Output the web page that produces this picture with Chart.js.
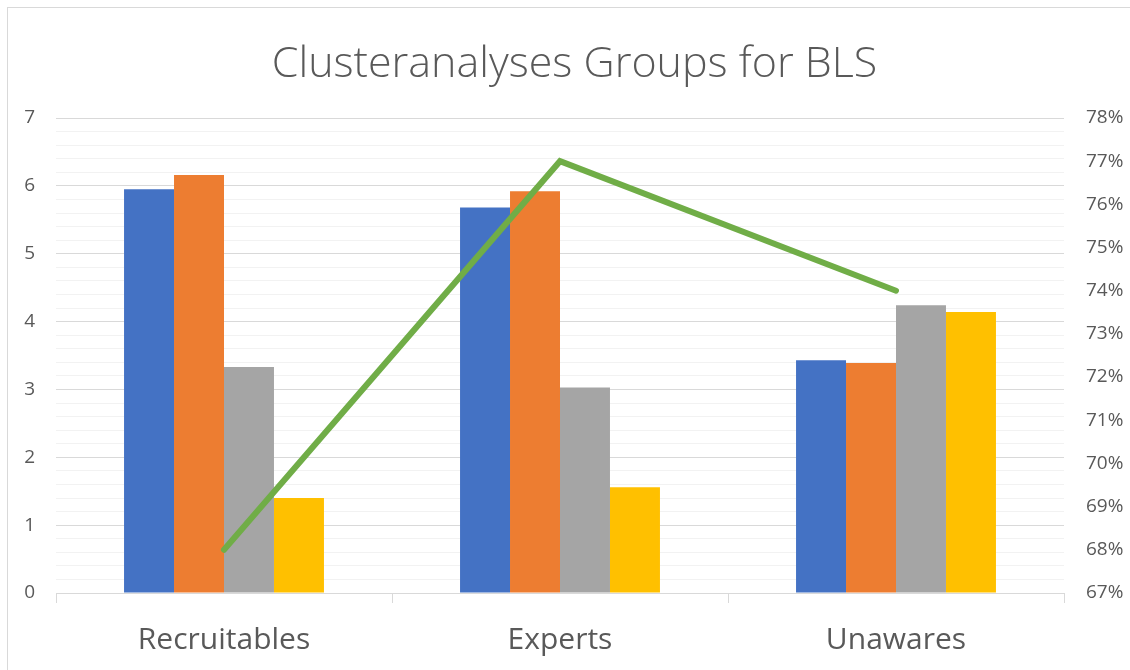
<!DOCTYPE html>
<html>
<head>
<meta charset="utf-8">
<script src="https://cdn.jsdelivr.net/npm/chart.js@4/dist/chart.umd.min.js"></script>
<style>
  html, body { margin: 0; padding: 0; background: #fff; }
  #wrap { position: relative; width: 1130px; height: 670px; overflow: hidden; }
  #frame { position: absolute; left: 7px; top: 7px; width: 1200px; height: 800px; border: 1px solid #d9d9d9; box-sizing: border-box; pointer-events: none; }
  canvas { position: absolute; left: 0; top: 0; }
</style>
</head>
<body>
<div id="wrap">
  <canvas id="c" width="1130" height="670"></canvas>
  <div id="frame"></div>
</div>
<script>
const titleText = "Clusteranalyses Groups for BLS";
const categories = ["Recruitables", "Experts", "Unawares"];
const series1 = [5.95, 5.68, 3.43];
const series2 = [6.16, 5.92, 3.39];
const series3 = [3.33, 3.03, 4.24];
const series4 = [1.40, 1.56, 4.14];
const percentLine = [68, 77, 74];
const leftTicks = { min: 0, max: 7, major: 1, minor: 0.2 };
const rightTicks = { min: 67, max: 78, step: 1 };

const FONT = "'Open Sans', 'DejaVu Sans', sans-serif";
const TXT = "#595959";

const titlePlugin = {
  id: 'customTitle',
  afterDraw(chart) {
    const ctx = chart.ctx;
    ctx.save();
    ctx.font = "300 43px " + FONT;
    ctx.fillStyle = TXT;
    ctx.textAlign = "center";
    ctx.textBaseline = "alphabetic";
    ctx.fillText(titleText, 574.5, 77);
    ctx.restore();
  }
};

function isInt(v) { return Math.abs(v - Math.round(v)) < 1e-6; }

new Chart(document.getElementById('c'), {
  type: 'bar',
  data: {
    labels: categories,
    datasets: [
      { type: 'line', label: 'Share', data: percentLine, yAxisID: 'y2', borderColor: '#70ad47', backgroundColor: '#70ad47', borderWidth: 6, pointRadius: 0, borderCapStyle: 'round', borderJoinStyle: 'miter', tension: 0, order: 0 },
      { label: 'Series 1', data: series1, backgroundColor: '#4472c4', yAxisID: 'y', order: 1 },
      { label: 'Series 2', data: series2, backgroundColor: '#ed7d31', yAxisID: 'y', order: 1 },
      { label: 'Series 3', data: series3, backgroundColor: '#a5a5a5', yAxisID: 'y', order: 1 },
      { label: 'Series 4', data: series4, backgroundColor: '#ffc000', yAxisID: 'y', order: 1 }
    ]
  },
  options: {
    responsive: false,
    animation: false,
    devicePixelRatio: 1,
    datasets: { bar: { categoryPercentage: 0.595, barPercentage: 1.0 } },
    layout: { padding: { top: 118, left: 0, right: 0, bottom: 0 } },
    plugins: { legend: { display: false }, title: { display: false }, tooltip: { enabled: false } },
    scales: {
      x: {
        offset: true,
        grid: { offset: true, drawOnChartArea: false, drawTicks: true, tickLength: 10, color: '#d9d9d9', lineWidth: 1 },
        border: { display: true, color: '#d9d9d9', width: 1 },
        ticks: { color: TXT, font: { family: FONT, size: 30 }, padding: 19 },
        afterFit(s) { s.height = 77; }
      },
      y: {
        position: 'left',
        min: leftTicks.min, max: leftTicks.max,
        ticks: {
          stepSize: leftTicks.minor, maxTicksLimit: 100, autoSkip: false,
          color: TXT, font: { family: FONT, size: 19 }, padding: 21,
          callback: (v) => isInt(v) ? String(Math.round(v)) : ''
        },
        grid: {
          drawTicks: false,
          color: (c) => (c.tick && isInt(c.tick.value) ? '#d9d9d9' : '#f2f2f2'),
          lineWidth: 1
        },
        border: { display: false },
        afterFit(s) { s.width = 56; }
      },
      y2: {
        position: 'right',
        min: rightTicks.min, max: rightTicks.max,
        ticks: { stepSize: rightTicks.step, color: TXT, font: { family: FONT, size: 19 }, padding: 22, callback: (v) => v + '%' },
        grid: { display: false, drawTicks: false },
        border: { display: false },
        afterFit(s) { s.width = 66; }
      }
    }
  },
  plugins: [titlePlugin]
});
</script>
</body>
</html>
